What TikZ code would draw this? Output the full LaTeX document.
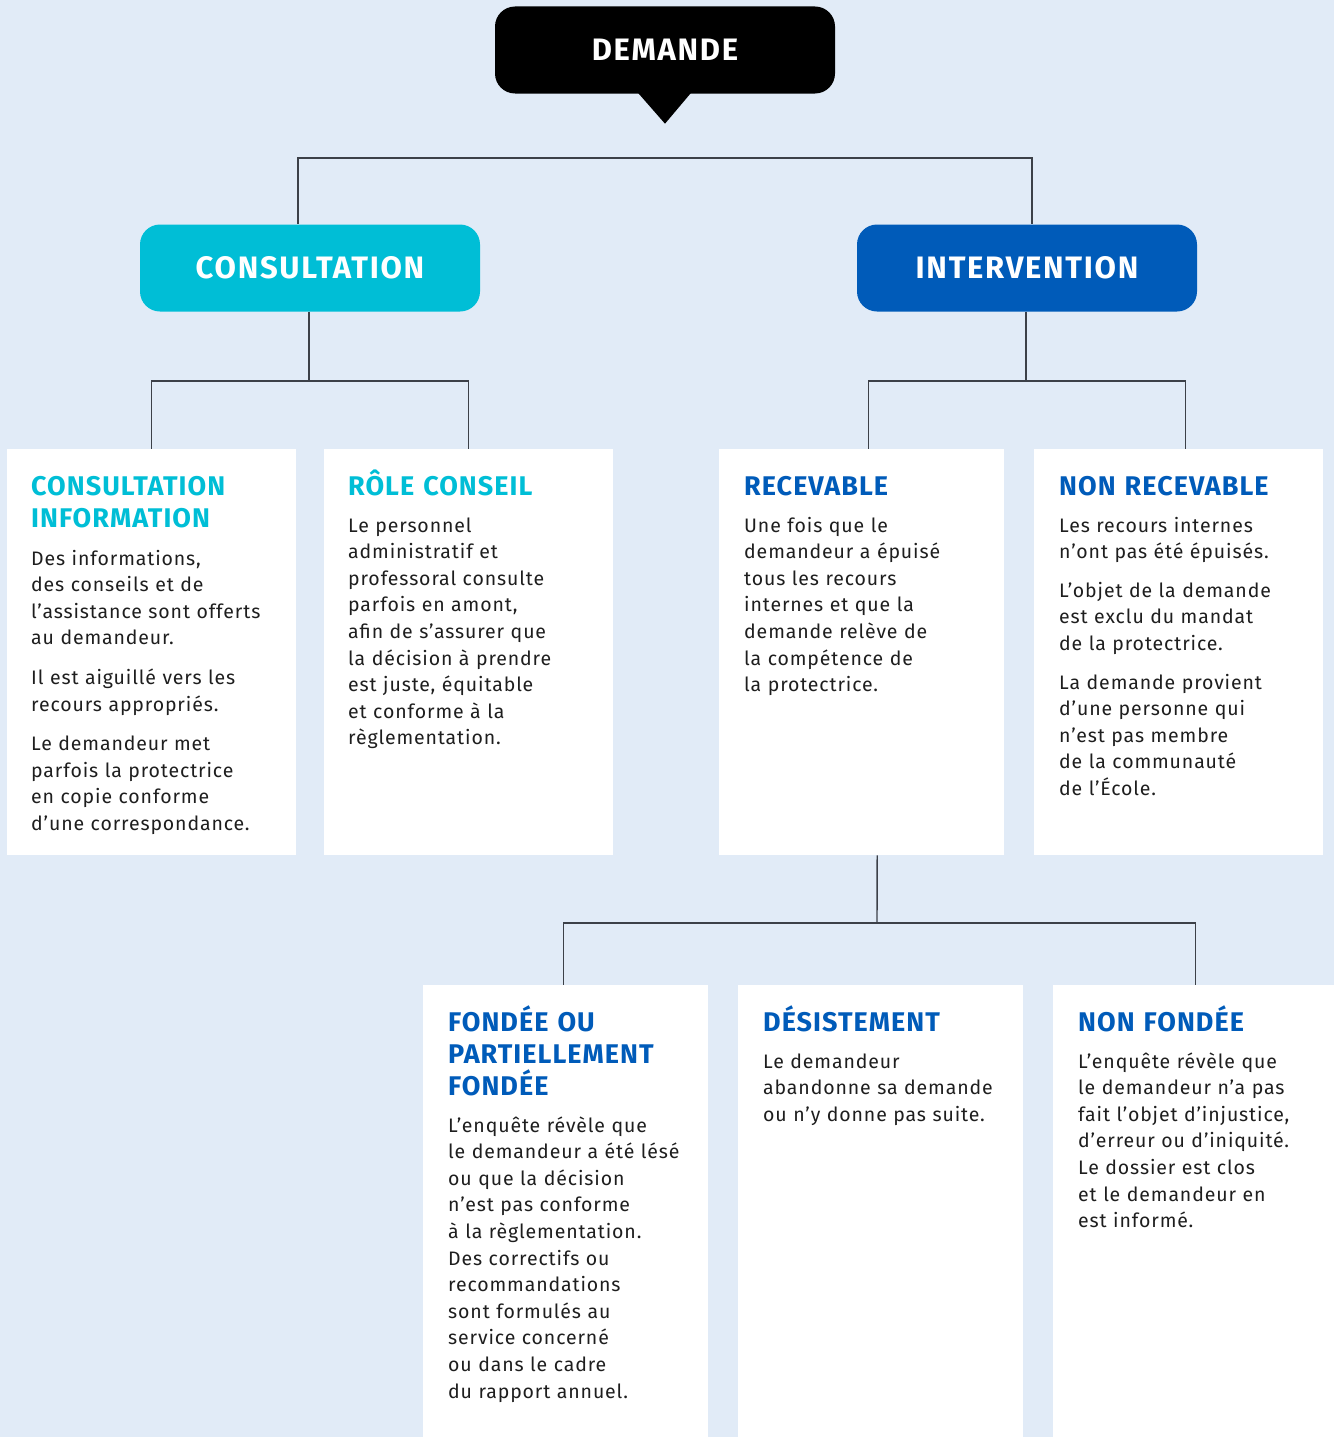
\documentclass[tikz,border=0pt]{standalone}
\usepackage{fontspec}
\setmainfont{Fira Sans}
\definecolor{bgc}{HTML}{E1EBF7}
\definecolor{cyanc}{HTML}{00BED6}
\definecolor{bluec}{HTML}{005BB9}
\definecolor{linec}{HTML}{3C4048}
\definecolor{txtc}{HTML}{1E1E1E}
\begin{document}
\begin{tikzpicture}[x=1pt,y=-1pt,
  headbox/.style={draw=none, rounded corners=20pt, text=white, inner sep=0pt,
    font=\fontsize{31}{36}\selectfont\bfseries\addfontfeature{LetterSpace=5.5}, minimum width=340pt, minimum height=87pt},
  wbox/.style={fill=white, draw=none, anchor=north west, inner sep=0pt},
  conn/.style={draw=linec, line width=1.4pt},
  ttl/.style={anchor=base west, inner sep=0pt, align=left, text width=280pt,
    font=\fontsize{27}{32}\selectfont\bfseries\addfontfeature{LetterSpace=3.8}},
  bodytxt/.style={anchor=base west, inner sep=0pt, align=left, text width=280pt,
    text=txtc, font=\fontsize{19.5}{26.6}\selectfont\addfontfeature{LetterSpace=4.5}}
]
\fill[bgc] (0,0) rectangle (1334,1437);
\useasboundingbox (0,0) rectangle (1334,1437);

% top
\node[headbox, fill=black] (dem) at (665,50) {DEMANDE};
\fill[black] ([xshift=-28pt,yshift=2pt]dem.south) -- ([yshift=-30pt]dem.south) -- ([xshift=27pt,yshift=2pt]dem.south) -- cycle;

\node[headbox, fill=cyanc] (cons) at (310,268) {CONSULTATION};
\node[headbox, fill=bluec] (intv) at (1027,268) {INTERVENTION};

\coordinate (j0) at (665,158);
\draw[conn] (j0) -| ([xshift=-12pt]cons.north);
\draw[conn] (j0) -| ([xshift=5pt]intv.north);

% row 2 boxes
\node[wbox, minimum width=289pt, minimum height=406pt] (ci) at (7,449) {};
\node[wbox, minimum width=289pt, minimum height=406pt] (rc) at (324,449) {};
\node[wbox, minimum width=285pt, minimum height=406pt] (rec) at (719,449) {};
\node[wbox, minimum width=289pt, minimum height=406pt] (nrec) at (1034,449) {};

\coordinate (j1) at (309,381);
\draw[conn] ([xshift=-1pt]cons.south) -- (j1);
\draw[conn] (j1) -| (ci.north);
\draw[conn] (j1) -| (rc.north);

\coordinate (j2) at (1026,381);
\draw[conn] ([xshift=-1pt]intv.south) -- (j2);
\draw[conn] (j2) -| ([xshift=6.5pt]rec.north);
\draw[conn] (j2) -| ([xshift=6.5pt]nrec.north);

% row 3 boxes
\node[wbox, minimum width=285pt, minimum height=452pt] (fon) at (423,985) {};
\node[wbox, minimum width=285pt, minimum height=452pt] (des) at (738,985) {};
\node[wbox, minimum width=281pt, minimum height=452pt] (nfon) at (1053,985) {};

\coordinate (j3) at (877,923);
\draw[conn] ([xshift=15.5pt]rec.south) -- (j3);
\draw[conn] (j3) -| ([xshift=-2.5pt]fon.north);
\draw[conn] (j3) -| ([xshift=1.5pt]nfon.north);

% row 2 texts
\node[ttl, text=cyanc] (ci-t) at ([xshift=24pt,yshift=-46pt]ci.north west) {CONSULTATION\\INFORMATION};
\node[bodytxt] (ci-b) at ([xshift=24pt,yshift=-116pt]ci.north west) {Des informations,\\des conseils et de\\l’assistance sont offerts\\au demandeur.\\[13pt]Il est aiguillé vers les\\recours appropriés.\\[13pt]Le demandeur met\\parfois la protectrice\\en copie conforme\\d’une correspondance.};

\node[ttl, text=cyanc] (rc-t) at ([xshift=24pt,yshift=-46pt]rc.north west) {RÔLE CONSEIL};
\node[bodytxt] (rc-b) at ([xshift=24pt,yshift=-83pt]rc.north west) {Le personnel\\administratif et\\professoral consulte\\parfois en amont,\\afin de s’assurer que\\la décision à prendre\\est juste, équitable\\et conforme à la\\règlementation.};

\node[ttl, text=bluec] (rec-t) at ([xshift=25pt,yshift=-46pt]rec.north west) {RECEVABLE};
\node[bodytxt] (rec-b) at ([xshift=25pt,yshift=-83pt]rec.north west) {Une fois que le\\demandeur a épuisé\\tous les recours\\internes et que la\\demande relève de\\la compétence de\\la protectrice.};

\node[ttl, text=bluec] (nrec-t) at ([xshift=25pt,yshift=-46pt]nrec.north west) {NON RECEVABLE};
\node[bodytxt] (nrec-b) at ([xshift=25pt,yshift=-83pt]nrec.north west) {Les recours internes\\n’ont pas été épuisés.\\[12pt]L’objet de la demande\\est exclu du mandat\\de la protectrice.\\[12pt]La demande provient\\d’une personne qui\\n’est pas membre\\de la communauté\\de l’École.};

% row 3 texts
\node[ttl, text=bluec] (fon-t) at ([xshift=25pt,yshift=-46pt]fon.north west) {FONDÉE OU\\PARTIELLEMENT\\FONDÉE};
\node[bodytxt] (fon-b) at ([xshift=25pt,yshift=-147pt]fon.north west) {L’enquête révèle que\\le demandeur a été lésé\\ou que la décision\\n’est pas conforme\\à la règlementation.\\Des correctifs ou\\recommandations\\sont formulés au\\service concerné\\ou dans le cadre\\du rapport annuel.};

\node[ttl, text=bluec] (des-t) at ([xshift=25pt,yshift=-46pt]des.north west) {DÉSISTEMENT};
\node[bodytxt] (des-b) at ([xshift=25pt,yshift=-83pt]des.north west) {Le demandeur\\abandonne sa demande\\ou n’y donne pas suite.};

\node[ttl, text=bluec] (nfon-t) at ([xshift=25pt,yshift=-46pt]nfon.north west) {NON FONDÉE};
\node[bodytxt] (nfon-b) at ([xshift=25pt,yshift=-83pt]nfon.north west) {L’enquête révèle que\\le demandeur n’a pas\\fait l’objet d’injustice,\\d’erreur ou d’iniquité.\\Le dossier est clos\\et le demandeur en\\est informé.};
\end{tikzpicture}
\end{document}
